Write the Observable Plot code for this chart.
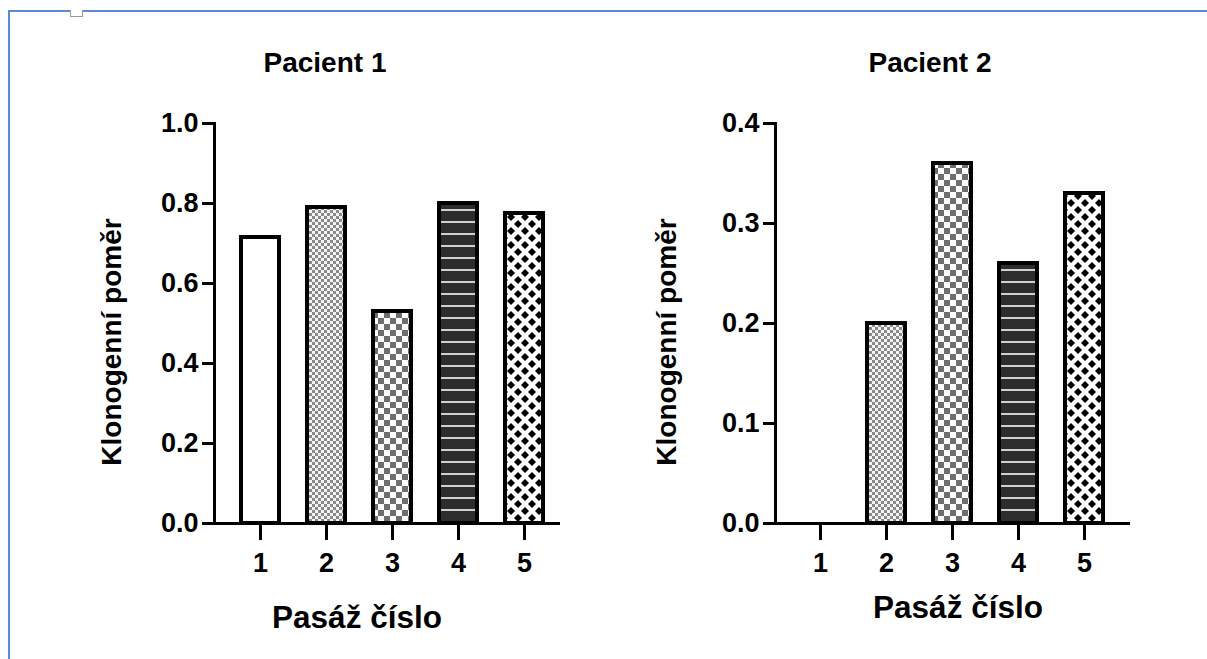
<!DOCTYPE html>
<html>
<head>
<meta charset="utf-8">
<script src="https://cdn.jsdelivr.net/npm/d3@7"></script>
<script src="https://cdn.jsdelivr.net/npm/@observablehq/plot@0.6"></script>
<style>
  html, body { margin: 0; padding: 0; background: white; }
  #page { position: relative; width: 1207px; height: 659px; overflow: hidden; font-family: "Liberation Sans", Arial, sans-serif; color: black; }
  .panel { position: absolute; top: 0; }
  .panel svg { background: transparent !important; overflow: visible; max-width: none !important; }
  .lbl { position: absolute; font-weight: bold; white-space: nowrap; line-height: 1; }
  .title { font-size: 28px; transform: translateX(-50%); }
  .ylab { font-size: 28px; transform: translate(-50%, -50%) rotate(-90deg); }
  .xlab { font-size: 31.5px; transform: translateX(-50%); }
  #border { position: absolute; left: 8px; top: 10px; width: 1300px; height: 800px; border: 2px solid #5b8bd1; box-sizing: border-box; z-index: 5; pointer-events: none; }
  #tiny { position: absolute; left: 70px; top: 10px; width: 11px; height: 6px; border: 1px solid #9a9a9a; border-top: none; background: white; z-index: 6; }
</style>
</head>
<body>
<div id="page">
  <div id="p1" class="panel" style="left:0px"></div>
  <div id="p2" class="panel" style="left:560px"></div>
  <div id="border"></div>
  <div id="tiny"></div>
</div>
<script>
// ---- data ----
const passages = ["1", "2", "3", "4", "5"];
const pacient1 = [0.715, 0.79, 0.53, 0.80, 0.775];
const pacient2 = [0, 0.20, 0.36, 0.26, 0.33];
const yTicks1 = [0, 0.2, 0.4, 0.6, 0.8, 1.0];
const yTicks2 = [0, 0.1, 0.2, 0.3, 0.4];
const titles = ["Pacient 1", "Pacient 2"];
const yLabel = "Klonogenní poměr";
const xLabel = "Pasáž číslo";
const patternNames = ["blank", "fineCheck", "coarseCheck", "stripes", "diamonds"];

function makeDefs(prefix) {
  return () => {
    const g = d3.create("svg:g");
    const defs = g.append("defs");
    // 1: blank white
    let p = defs.append("pattern").attr("id", `${prefix}-blank`).attr("patternUnits", "userSpaceOnUse").attr("width", 10).attr("height", 10);
    p.append("rect").attr("width", 10).attr("height", 10).attr("fill", "white");
    // 2: fine checkerboard
    p = defs.append("pattern").attr("id", `${prefix}-fineCheck`).attr("patternUnits", "userSpaceOnUse").attr("width", 6).attr("height", 6);
    p.append("rect").attr("width", 6).attr("height", 6).attr("fill", "#f4f4f4");
    p.append("rect").attr("width", 3).attr("height", 3).attr("fill", "#8a8a8a");
    p.append("rect").attr("x", 3).attr("y", 3).attr("width", 3).attr("height", 3).attr("fill", "#8a8a8a");
    // 3: coarse checkerboard
    p = defs.append("pattern").attr("id", `${prefix}-coarseCheck`).attr("patternUnits", "userSpaceOnUse").attr("width", 12).attr("height", 12);
    p.append("rect").attr("width", 12).attr("height", 12).attr("fill", "white");
    p.append("rect").attr("width", 6).attr("height", 6).attr("fill", "#6e6e6e");
    p.append("rect").attr("x", 6).attr("y", 6).attr("width", 6).attr("height", 6).attr("fill", "#6e6e6e");
    // 4: dark with light horizontal stripes
    p = defs.append("pattern").attr("id", `${prefix}-stripes`).attr("patternUnits", "userSpaceOnUse").attr("width", 12).attr("height", 12);
    p.append("rect").attr("width", 12).attr("height", 12).attr("fill", "#2d2d2d");
    p.append("rect").attr("y", 5).attr("width", 12).attr("height", 2).attr("fill", "#cfcfcf");
    // 5: black diamonds on white
    p = defs.append("pattern").attr("id", `${prefix}-diamonds`).attr("patternUnits", "userSpaceOnUse").attr("width", 14).attr("height", 14);
    p.append("rect").attr("width", 14).attr("height", 14).attr("fill", "white");
    const h = 4;
    for (const [cx, cy] of [[0,0],[14,0],[0,14],[14,14],[7,7]]) {
      p.append("polygon").attr("points", `${cx},${cy-h} ${cx+h},${cy} ${cx},${cy+h} ${cx-h},${cy}`).attr("fill", "black");
    }
    return g.node();
  };
}

function panel(values, ticks, ymax, prefix, ml, mr, insetLeft, insetRight) {
  const data = passages.map((p, i) => ({passage: p, value: values[i], fill: `url(#${prefix}-${patternNames[i]})`}));
  return Plot.plot({
    width: 600,
    height: 600,
    marginLeft: ml,
    marginRight: mr,
    marginTop: 123,
    marginBottom: 77,
    style: {background: "transparent", fontFamily: "Liberation Sans, Arial, sans-serif", color: "black", overflow: "visible"},
    x: {domain: passages, paddingInner: 0.42, paddingOuter: 0.21, insetLeft, insetRight},
    y: {domain: [0, ymax]},
    color: {type: "identity"},
    marks: [
      makeDefs(prefix),
      Plot.barY(data, {x: "passage", y: "value", fill: "fill", stroke: "black", strokeWidth: 4}),
      Plot.axisY({ticks, tickFormat: d3.format(".1f"), tickSize: 12, tickPadding: 4, fontSize: 27, fontWeight: "bold", strokeWidth: 3, label: null}),
      Plot.axisX({tickSize: 17, tickPadding: 12, fontSize: 27, fontWeight: "bold", strokeWidth: 3, label: null}),
      Plot.frame({anchor: "left", strokeWidth: 3}),
      Plot.frame({anchor: "bottom", strokeWidth: 3})
    ]
  });
}

document.getElementById("p1").appendChild(panel(pacient1, yTicks1, 1.0, "a", 214, 42, 13, 1));
document.getElementById("p2").appendChild(panel(pacient2, yTicks2, 0.4, "b", 215, 32, 12, 10));

const page = document.getElementById("page");
function addLabel(text, cls, left, top) {
  const d = document.createElement("div");
  d.className = "lbl " + cls;
  d.textContent = text;
  d.style.left = left + "px";
  d.style.top = top + "px";
  page.appendChild(d);
}
addLabel(titles[0], "title", 325, 49);
addLabel(titles[1], "title", 930, 49);
addLabel(yLabel, "ylab", 112, 342);
addLabel(yLabel, "ylab", 667, 342);
addLabel(xLabel, "xlab", 357, 602);
addLabel(xLabel, "xlab", 958, 592);
</script>
</body>
</html>
